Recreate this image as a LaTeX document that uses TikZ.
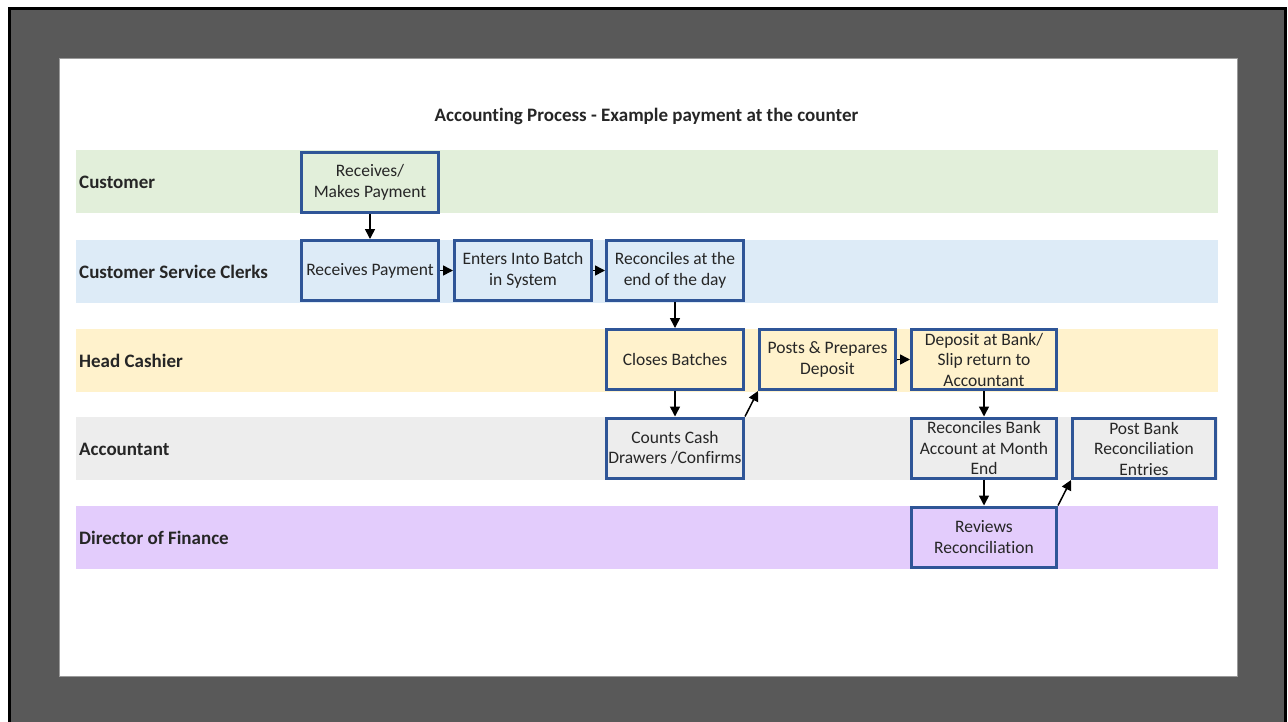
\documentclass[tikz,border=0pt]{standalone}
\usepackage{fontspec}
\setmainfont{Carlito}[Ligatures=NoCommon]
\usetikzlibrary{arrows.meta}

\definecolor{framegray}{HTML}{595959}
\definecolor{slideedge}{HTML}{9A9A9A}
\definecolor{lanegreen}{HTML}{E2EFDA}
\definecolor{laneblue}{HTML}{DDEBF7}
\definecolor{laneyellow}{HTML}{FFF2CC}
\definecolor{lanegray}{HTML}{EDEDED}
\definecolor{lanepurple}{HTML}{E3CCFC}
\definecolor{boxblue}{HTML}{2F5597}
\definecolor{inktext}{HTML}{262626}

\tikzset{
  lane/.style={fill=#1, draw=none, minimum width=1142pt, minimum height=63pt,
               anchor=west, inner sep=0pt},
  lanelabel/.style={anchor=west, inner sep=0pt, text=inktext,
               font=\fontsize{19}{22}\selectfont\bfseries},
  stepbox/.style={draw=boxblue, line width=3pt, fill=#1, align=center,
               inner sep=0pt, minimum height=60pt, text=inktext,
               font=\fontsize{17.5}{20.5}\selectfont},
  flow/.style={-{Triangle[length=10pt,width=10pt]}, line width=1.5pt, black},
}

\begin{document}
\begin{tikzpicture}[x=1pt,y=-1pt]
\useasboundingbox (0,0) rectangle (1288,721);

% dark surround and white slide
\draw[fill=framegray, draw=black, line width=3pt] (9,8) rectangle (1285.5,740);
\draw[fill=white, draw=slideedge, line width=1pt] (59,58) rectangle (1237,676);

% title
\node[font=\fontsize{19}{22}\selectfont\bfseries, text=inktext] (title) at (646.5,116)
  {Accounting Process - Example payment at the counter};

% swim lanes
\node[lane=lanegreen]  (laneA) at (76,181.5) {};
\node[lane=laneblue]   (laneB) at (76,271)   {};
\node[lane=laneyellow] (laneC) at (76,360.5) {};
\node[lane=lanegray]   (laneD) at (76,448.5) {};
\node[lane=lanepurple] (laneE) at (76,537.5) {};

\node[lanelabel] (labA) at (79,182) {Customer};
\node[lanelabel] (labB) at (79,271.5) {Customer Service Clerks};
\node[lanelabel] (labC) at (79,361) {Head Cashier};
\node[lanelabel] (labD) at (79,449) {Accountant};
\node[lanelabel] (labE) at (79,538) {Director of Finance};

% process steps
\node[stepbox=lanegreen,  minimum width=137pt] (pay)     at (370,182.5) {Receives/\\Makes Payment};
\node[stepbox=laneblue,   minimum width=137pt] (recv)    at (370,270.5) {Receives Payment};
\node[stepbox=laneblue,   minimum width=137pt] (batch)   at (523,270.5) {Enters Into Batch\\in System};
\node[stepbox=laneblue,   minimum width=137pt] (recday)  at (675,270.5) {Reconciles at the\\end of the day};
\node[stepbox=laneyellow, minimum width=137pt] (close)   at (675,359.5) {Closes Batches};
\node[stepbox=laneyellow, minimum width=136pt] (posts)   at (827.5,359.5) {Posts \& Prepares\\Deposit};
\node[stepbox=laneyellow, minimum width=145pt] (deposit) at (984,359.5) {Deposit at Bank/\\Slip return to\\Accountant};
\node[stepbox=lanegray,   minimum width=137pt] (counts)  at (675,448) {Counts Cash\\Drawers /Confirms};
\node[stepbox=lanegray,   minimum width=145pt] (recbank) at (984,448) {Reconciles Bank\\Account at Month\\End};
\node[stepbox=lanegray,   minimum width=143pt] (postrec) at (1144,448.5) {Post Bank\\Reconciliation\\Entries};
\node[stepbox=lanepurple, minimum width=145pt] (review)  at (984,537) {Reviews\\Reconciliation};

% connectors
\draw[flow] (pay) -- (recv);
\draw[flow] (recv) -- (batch);
\draw[flow] (batch) -- (recday);
\draw[flow] (recday) -- (close);
\draw[flow] (close) -- (counts);
\draw[flow] (counts.north east) -- (posts.south west);
\draw[flow] (posts) -- (deposit);
\draw[flow] (deposit) -- (recbank);
\draw[flow] (recbank) -- (review);
\draw[flow] (review.north east) -- (postrec.south west);
\end{tikzpicture}
\end{document}
